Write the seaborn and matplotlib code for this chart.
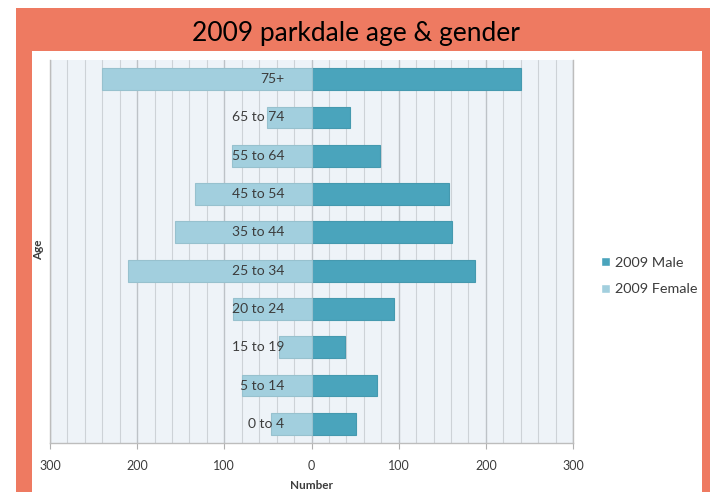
import numpy as np
import pandas as pd
import matplotlib
matplotlib.use("Agg")
import matplotlib.pyplot as plt
from matplotlib.patches import Rectangle
from matplotlib.ticker import MultipleLocator, FuncFormatter
import seaborn as sns

# ---- data ----
age_groups = ["75+", "65 to 74", "55 to 64", "45 to 54", "35 to 44",
              "25 to 34", "20 to 24", "15 to 19", "5 to 14", "0 to 4"]
male_2009 = [240, 44, 79, 158, 161, 188, 95, 39, 75, 51]
female_2009 = [240, 51, 91, 134, 157, 210, 90, 37, 80, 47]
series_names = ["2009 Male", "2009 Female"]
title_text = "2009 parkdale age & gender"

df = pd.DataFrame({
    "Age": age_groups * 2,
    "Number": list(male_2009) + [-v for v in female_2009],
    "Series": [series_names[0]] * len(age_groups) + [series_names[1]] * len(age_groups),
})

sns.set_theme(style="white")
plt.rcParams["font.family"] = ["Lato", "DejaVu Sans"]

ORANGE = "#EE7A61"
MALE = "#4AA4BC"
FEMALE = "#A2CFDE"
TXT = "#3C3C3C"

fig = plt.figure(figsize=(7.10, 4.92), dpi=100)
fig.patch.set_facecolor("white")
W, H = 710.0, 492.0

# frame
fig.patches.append(Rectangle((16 / W, 0), (710 - 16) / W, (492 - 7.5) / H,
                             transform=fig.transFigure, facecolor=ORANGE,
                             edgecolor="none", zorder=-2))
fig.patches.append(Rectangle((32 / W, 0), (702 - 32) / W, (492 - 51) / H,
                             transform=fig.transFigure, facecolor="white",
                             edgecolor="none", zorder=-1))

ax = fig.add_axes([50 / W, (492 - 443) / H, (573 - 50) / W, (443 - 60) / H])
ax.set_facecolor("#EEF3F8")

sns.barplot(data=df, x="Number", y="Age", hue="Series", order=age_groups,
            hue_order=series_names, palette={series_names[0]: MALE, series_names[1]: FEMALE},
            dodge=False, width=0.57, orient="h", saturation=1, ax=ax, zorder=3)
for bar in ax.patches:
    fc = bar.get_facecolor()
    bar.set_edgecolor(tuple(max(0, v * 0.93) for v in fc[:3]))
    bar.set_linewidth(0.8)

ax.set_xlim(-300, 300)
ax.set_ylim(len(age_groups) - 0.5, -0.5)
ax.xaxis.set_major_locator(MultipleLocator(100))
ax.xaxis.set_minor_locator(MultipleLocator(20))
ax.xaxis.set_major_formatter(FuncFormatter(lambda v, _: f"{abs(int(round(v)))}"))
ax.grid(True, axis="x", which="minor", color="#CDD2D7", linewidth=0.8, zorder=0)
ax.grid(True, axis="x", which="major", color="#BDC2C7", linewidth=1.0, zorder=0)
ax.set_axisbelow(True)
ax.tick_params(axis="x", which="major", bottom=True, length=4, width=0.8,
               color="#B0B0B0", labelsize=9, labelcolor=TXT, pad=8)
ax.tick_params(axis="x", which="minor", bottom=False)
ax.tick_params(axis="y", left=False, labelleft=False)

for side in ["left", "right", "bottom"]:
    ax.spines[side].set_visible(True)
    ax.spines[side].set_color("#BDBDBD")
    ax.spines[side].set_linewidth(1.0)
ax.spines["top"].set_visible(False)

ax.set_xlabel("Number", fontsize=8.5, fontweight="bold", color=TXT, labelpad=6)
ax.set_ylabel("")
fig.text(39 / W, 1 - 250 / H, "Age", rotation=90, fontsize=8.5, fontweight="bold",
         color=TXT, ha="center", va="center")

# category labels next to zero line
for i, lab in enumerate(age_groups):
    ax.annotate(lab, xy=(0, i), xytext=(-19.5, 0), textcoords="offset points",
                ha="right", va="center", fontsize=10, color=TXT, zorder=5)

# legend
sns.move_legend(ax, "upper left", bbox_to_anchor=(601 / W, 1 - 257 / H),
                bbox_transform=fig.transFigure, frameon=False, title=None,
                fontsize=10.4, handlelength=0.6, handleheight=0.6,
                handletextpad=0.4, labelspacing=1.0, borderpad=0, borderaxespad=0)
for t in ax.get_legend().get_texts():
    t.set_color(TXT)

# right orange strip above legend (clips long label like the reference)
fig.patches.append(Rectangle((702 / W, 0), 8 / W, (492 - 7.5) / H,
                             transform=fig.transFigure, facecolor=ORANGE,
                             edgecolor="none", zorder=20))
fig.text(356 / W, 1 - 34 / H, title_text, ha="center", va="center",
         fontsize=19, color="black")

fig.savefig("out.png", dpi=100, facecolor=fig.get_facecolor())
